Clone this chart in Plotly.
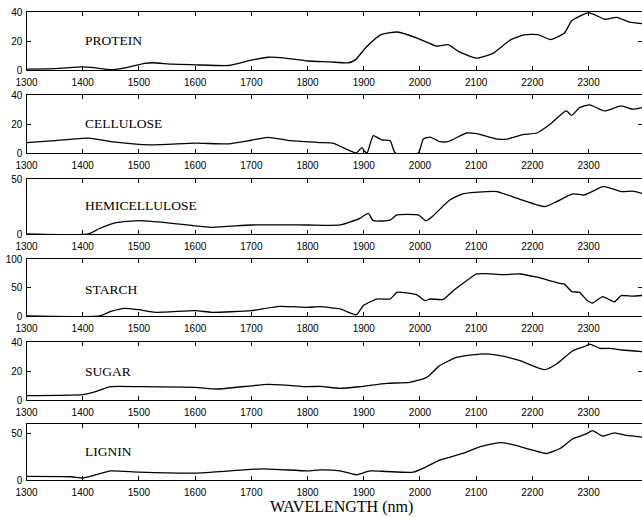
import plotly.graph_objects as go

# ---------------- data ----------------
protein_wl = [1300, 1350, 1400, 1420, 1450, 1480, 1510, 1525, 1560, 1600, 1660, 1700, 1730, 1760, 1800,
              1840, 1872, 1885, 1905, 1930, 1960, 1995, 2030, 2050, 2070, 2100, 2130, 2160, 2185, 2210,
              2232, 2257, 2270, 2297, 2308, 2328, 2350, 2373, 2395]
protein_val = [0.6, 0.9, 2.2, 1.6, 0.2, 1.8, 4.6, 5.0, 4.0, 3.6, 3.1, 6.8, 8.8, 8.2, 6.2,
               5.6, 4.9, 7.0, 16, 24.2, 26.2, 22, 16.4, 17.5, 12.5, 8.2, 11.5, 20.5, 24.3, 24.4,
               21, 25.5, 34, 39.3, 38.6, 35, 36.3, 33, 32]

cellulose_wl = [1300, 1350, 1410, 1450, 1520, 1600, 1660, 1700, 1730, 1770, 1822, 1845, 1875, 1887,
                1893, 1897, 1902, 1906, 1917, 1932, 1947, 1956, 1997, 2006, 2018, 2035, 2050, 2083,
                2101, 2137, 2155, 2183, 2208, 2231, 2260, 2270, 2284, 2302, 2328, 2358, 2378, 2395]
cellulose_val = [7.2, 8.5, 10.3, 7.9, 5.6, 6.8, 6.3, 8.8, 10.8, 8.5, 7.2, 6.8, 1.6, 0,
                 2.5, 3.7, 1.0, 0, 12, 9, 8.5, 0, 0, 9.6, 11, 7.9, 7.9, 13.8,
                 13.3, 9.6, 9.6, 12.6, 13.8, 19.6, 29, 26, 31.3, 33.2, 29, 32.5, 30.2, 31.3]

hemi_wl = [1300, 1410, 1430, 1460, 1500, 1560, 1630, 1700, 1800, 1858, 1893, 1908, 1917, 1947, 1959,
           1997, 2011, 2023, 2053, 2076, 2119, 2137, 2178, 2222, 2243, 2272, 2293, 2325, 2337, 2358,
           2378, 2395]
hemi_val = [0, 0, 5, 10.3, 12.1, 9.7, 6.1, 8.2, 8.2, 8.2, 14.2, 18.8, 12.1, 12.7, 17.3,
            17.3, 12.1, 16.4, 30.9, 36.4, 38.5, 38.5, 31.5, 24.8, 29.4, 36.4, 35.5, 43, 42, 38.5,
            39, 37]

starch_wl = [1300, 1430, 1450, 1475, 1500, 1530, 1600, 1630, 1700, 1750, 1800, 1822, 1858, 1887,
             1899, 1923, 1947, 1959, 1994, 2009, 2018, 2041, 2059, 2083, 2101, 2119, 2148, 2178,
             2208, 2249, 2257, 2270, 2284, 2296, 2307, 2325, 2346, 2358, 2378, 2395]
starch_val = [0, 0, 8, 13.5, 11, 6.4, 9.4, 6.4, 9.4, 17, 15.2, 16.4, 12.3, 2.3,
              18, 29.8, 29.8, 41.5, 37.4, 26.9, 29.8, 29, 44.4, 62, 73.7, 74.3, 72.5, 73.7,
              68, 57.3, 56, 42.7, 41.5, 28.7, 22.8, 34, 25, 35.7, 35, 36]

sugar_wl = [1300, 1400, 1420, 1450, 1500, 1600, 1640, 1730, 1800, 1822, 1858, 1893, 1941, 1982, 2012,
            2035, 2065, 2106, 2137, 2178, 2222, 2243, 2272, 2296, 2302, 2320, 2337, 2360, 2395]
sugar_val = [3, 3.7, 5.5, 9.2, 9.2, 8.7, 7.6, 10.8, 9.2, 9.4, 8, 9.2, 11.5, 12.2, 15.6,
             23.7, 29.4, 31.7, 31, 27.1, 20.9, 24.8, 34, 37.4, 38.6, 35.6, 35.6, 34.5, 33.3]

lignin_wl = [1300, 1380, 1400, 1420, 1450, 1500, 1600, 1720, 1800, 1822, 1858, 1887, 1911, 1941, 1988,
             2012, 2035, 2076, 2106, 2142, 2165, 2201, 2225, 2249, 2272, 2296, 2307, 2325, 2346, 2367,
             2395]
lignin_val = [3.9, 3.5, 2.1, 5, 9.8, 8.4, 7.4, 11.9, 9.8, 10.9, 9.8, 5.6, 9.8, 9.1, 8.4,
              14.4, 21.4, 28.4, 35.5, 40, 37.9, 31.9, 28.4, 33.7, 44.2, 49.5, 53, 47, 50.5, 47.7,
              46]

panel_names = ["PROTEIN", "CELLULOSE", "HEMICELLULOSE", "STARCH", "SUGAR", "LIGNIN"]
panel_x = [protein_wl, cellulose_wl, hemi_wl, starch_wl, sugar_wl, lignin_wl]
panel_y = [protein_val, cellulose_val, hemi_val, starch_val, sugar_val, lignin_val]
y_ranges = [[0, 40], [0, 40], [0, 50], [0, 100], [0, 40], [0, 60]]
y_ticks = [[0, 20, 40], [0, 20, 40], [0, 50], [0, 50, 100], [0, 20, 40], [0, 50]]
label_y = [20, 20, 25.5, 47, 20, 30.5]
x_ticks = [1300, 1400, 1500, 1600, 1700, 1800, 1900, 2000, 2100, 2200, 2300]
x_range = [1300, 2395]
x_title = "WAVELENGTH (nm)"

# ---------------- layout geometry (pixels) ----------------
W, H = 642, 518
panel_px = [(12, 70), (95, 153), (179, 234), (259, 316), (342, 400), (424, 480)]
x_left_px = 26.5

fig = go.Figure()
layout = dict(
    width=W, height=H, margin=dict(l=0, r=0, t=0, b=0, autoexpand=False),
    paper_bgcolor="white", plot_bgcolor="white", showlegend=False,
)
tick_font = dict(family="Liberation Sans, Arial, sans-serif", size=10, color="black")
serif = "Liberation Serif, Times New Roman, serif"
annotations = []

for i in range(6):
    n = i + 1
    sfx = "" if n == 1 else str(n)
    top, bot = panel_px[i]
    dom = [1 - bot / H, 1 - top / H]
    fig.add_trace(go.Scatter(
        x=panel_x[i], y=panel_y[i], mode="lines",
        line=dict(color="black", width=1.3, shape="spline", smoothing=0.5),
        xaxis="x" + sfx, yaxis="y" + sfx, hoverinfo="skip",
    ))
    layout["xaxis" + sfx] = dict(
        domain=[x_left_px / W, 1], range=x_range, anchor="y" + sfx, automargin=False,
        tickvals=x_ticks, ticktext=[str(t) for t in x_ticks],
        ticks="inside", ticklen=4, tickwidth=1, tickcolor="black",
        showline=True, linecolor="black", linewidth=1.3, mirror="ticks",
        showgrid=False, zeroline=False, tickfont=tick_font, ticklabelstandoff=3,
    )
    layout["yaxis" + sfx] = dict(
        domain=dom, range=y_ranges[i], anchor="x" + sfx, automargin=False,
        tickvals=y_ticks[i], ticks="inside", ticklen=4, tickwidth=1, tickcolor="black",
        showline=True, linecolor="black", linewidth=1.3,
        showgrid=False, zeroline=False, tickfont=tick_font, ticklabelstandoff=1,
    )
    # right-side mirror ticks (no frame line)
    r = str(6 + n)
    layout["yaxis" + r] = dict(
        domain=dom, range=y_ranges[i], anchor="x" + sfx, overlaying="y" + sfx, side="right",
        automargin=False,
        tickvals=y_ticks[i][1:-1] if len(y_ticks[i]) > 2 else [], ticks="inside", ticklen=4,
        tickcolor="black", showticklabels=False, showline=False, showgrid=False, zeroline=False,
    )
    fig.add_trace(go.Scatter(x=[None], y=[None], xaxis="x" + sfx, yaxis="y" + r,
                             mode="lines", hoverinfo="skip"))
    annotations.append(dict(
        text=panel_names[i], x=1400, y=label_y[i], xref="x" + sfx, yref="y" + sfx,
        xanchor="left", yanchor="middle", showarrow=False,
        font=dict(family=serif, size=13.5, color="black"),
    ))

annotations.append(dict(
    text=x_title, x=342 / W, y=1 - 507 / H, xref="paper", yref="paper",
    xanchor="center", yanchor="middle", showarrow=False,
    font=dict(family=serif, size=16, color="black"),
))
layout["annotations"] = annotations
fig.update_layout(**layout)
fig.write_html("out.html")
